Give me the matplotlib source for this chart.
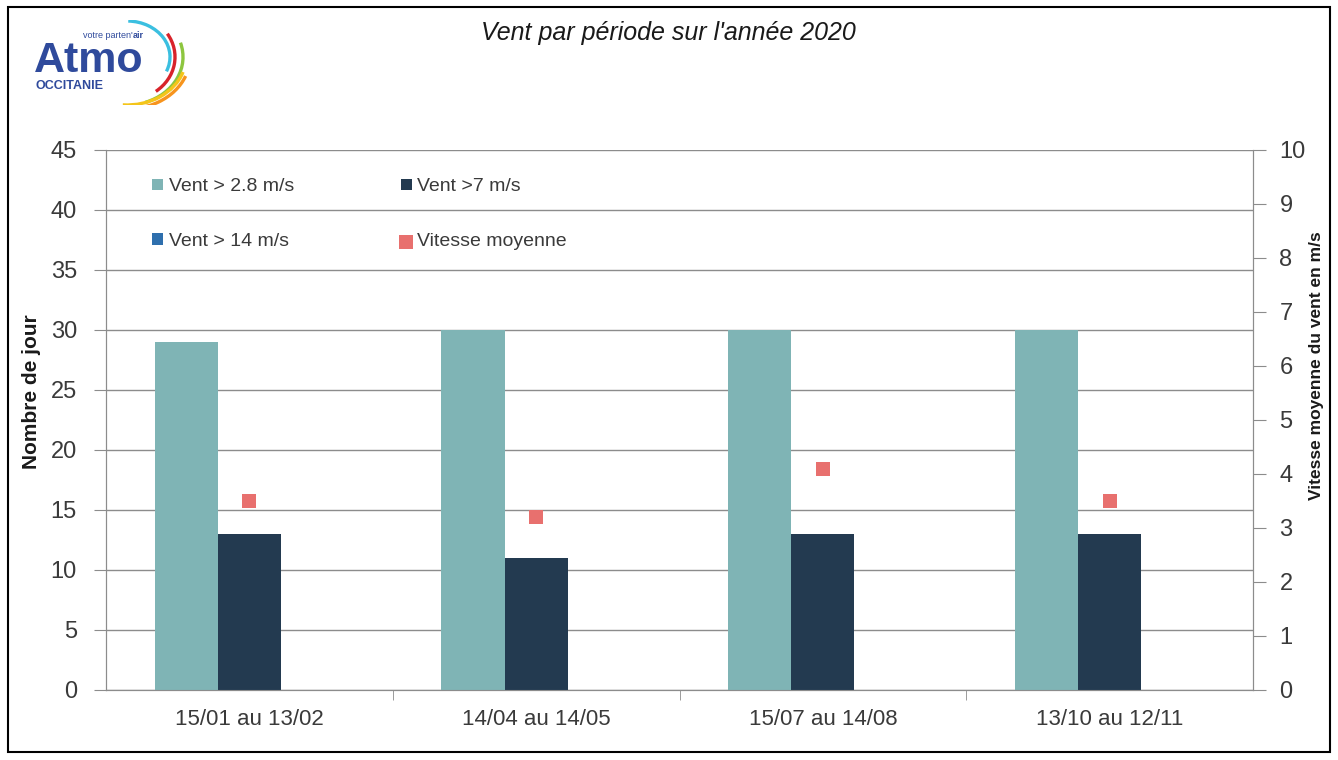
import numpy as np
import matplotlib
matplotlib.use('Agg')
import matplotlib.pyplot as plt
from matplotlib.patches import Arc, Rectangle

plt.rcParams['font.family'] = ['Liberation Sans', 'DejaVu Sans']

periods = ['15/01 au 13/02', '14/04 au 14/05', '15/07 au 14/08', '13/10 au 12/11']
vent_28 = [29, 30, 30, 30]
vent_7 = [13, 11, 13, 13]
vent_14 = [0, 0, 0, 0]
vitesse_moy = [3.5, 3.2, 4.1, 3.5]

C_28 = '#7fb4b5'
C_7 = '#233a50'
C_14 = '#2e6fad'
C_VIT = '#e8706e'
GRID = '#8c8c8c'
TXT = '#3a3a3a'

W, H = 1338, 760
fig = plt.figure(figsize=(W / 100, H / 100), dpi=100)

# outer frame
fig.add_artist(Rectangle((8 / W, 8 / H), 1322 / W, 745 / H, transform=fig.transFigure,
                         fill=False, ec='black', lw=1.5))

ax = fig.add_axes([106 / W, 70 / H, 1147 / W, 540 / H])
ax2 = ax.twinx()

x = np.arange(len(periods))
bw = 0.22
b28 = ax.bar(x - bw, vent_28, bw, color=C_28, label='Vent > 2.8 m/s', zorder=3)
b7 = ax.bar(x, vent_7, bw, color=C_7, label='Vent >7 m/s', zorder=3)
b14 = ax.bar(x + bw, vent_14, bw, color=C_14, label='Vent > 14 m/s', zorder=3)
sv = ax2.scatter(x, vitesse_moy, marker='s', s=110, color=C_VIT, label='Vitesse moyenne',
                 zorder=4, linewidths=0)

ax.set_xlim(-0.5, len(periods) - 0.5)
ax.set_ylim(0, 45)
ax.set_yticks(np.arange(0, 46, 5))
ax2.set_ylim(0, 10)
ax2.set_yticks(np.arange(0, 11, 1))
ax.yaxis.grid(True, color=GRID, lw=1, zorder=0)
ax.set_axisbelow(True)

ax.set_xticks(x)
ax.set_xticklabels(periods, fontsize=16, color=TXT)
ax.set_xticks(np.arange(0.5, len(periods) - 0.5, 1), minor=True)
ax.tick_params(axis='x', which='major', length=0, pad=14)
ax.tick_params(axis='x', which='minor', length=7, color=GRID, direction='out')
ax.tick_params(axis='y', length=9, color=GRID, labelsize=17, labelcolor=TXT, pad=12)
ax2.tick_params(axis='y', length=9, color=GRID, labelsize=17, labelcolor=TXT, pad=10)

for a in (ax, ax2):
    a.spines['top'].set_visible(False)
    for s in ('left', 'right', 'bottom'):
        a.spines[s].set_color(GRID)

ax.set_ylabel('Nombre de jour', fontsize=15, fontweight='bold', color='#1a1a1a')
ax.yaxis.set_label_coords(-0.057, 0.552)
ax2.set_ylabel('Vitesse moyenne du vent en m/s', fontsize=12.5, fontweight='bold',
               color='#1a1a1a')
ax2.yaxis.set_label_coords(1.049, 0.60)

# legend filled row by row
handles = [b28, b14, b7, sv]
labels = [h.get_label() for h in handles]
leg = ax.legend(handles, labels, ncol=2, loc='upper left', bbox_to_anchor=(0.025, 0.98),
                frameon=False, fontsize=14, handlelength=0.55, handleheight=0.55,
                handletextpad=0.3, columnspacing=5.5, labelspacing=1.95, markerscale=0.9)
for t in leg.get_texts():
    t.set_color(TXT)

fig.text(668 / W, 1 - 33 / H, "Vent par période sur l'année 2020", ha='center', va='center',
         fontsize=18, style='italic', color='#1a1a1a')

# logo (1 unit = 1 px)
lg = fig.add_axes([30 / W, 1 - 105 / H, 165 / W, 85 / H])
lg.set_xlim(0, 165)
lg.set_ylim(0, 85)
lg.axis('off')
BLUE = '#2f4a9c'
lg.text(4, 33, 'Atmo', fontsize=31, fontweight='bold', color=BLUE, va='baseline')
lg.text(5, 16, 'OCCITANIE', fontsize=9, fontweight='bold', color=BLUE, va='baseline')
lg.text(103, 67, "votre parten'", fontsize=6.5, color=BLUE, ha='right', va='baseline')
lg.text(103, 67, 'air', fontsize=6.5, fontweight='bold', color=BLUE, ha='left', va='baseline')
arcs = [  # colour, width, height, theta1, theta2
    ('#3bbfe0', 86, 72, -20, 88),
    ('#d8232a', 96, 86, -50, 30),
    ('#8dc63f', 112, 96, -68, 15),
    ('#f4c51a', 118, 96, -95, -15),
    ('#f7941d', 126, 104, -100, -18),
]
for c, w, h, t1, t2 in arcs:
    lg.add_patch(Arc((97, 48), w, h, theta1=t1, theta2=t2, color=c, lw=2.4))

fig.savefig('out.png', dpi=100)
